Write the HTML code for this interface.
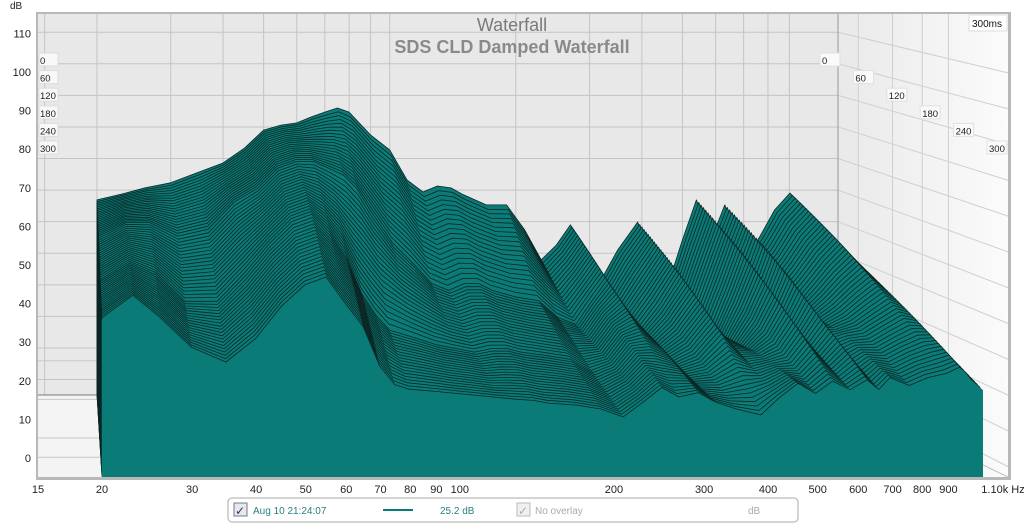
<!DOCTYPE html>
<html><head><meta charset="utf-8">
<style>
html,body{margin:0;padding:0;background:#fff;}
svg{display:block;font-family:"Liberation Sans",sans-serif;}
</style></head>
<body>
<svg id="chart" width="1024" height="523" viewBox="0 0 1024 523">
<defs>
<linearGradient id="sideg" x1="0" x2="1" y1="0" y2="0"><stop offset="0" stop-color="#e9e9e9"/><stop offset="1" stop-color="#fbfbfb"/></linearGradient>
<clipPath id="plotclip"><rect x="38" y="14" width="970" height="463"/></clipPath>
</defs>
<rect x="36" y="12" width="975" height="468" fill="#b8b8b8"/>
<rect x="38" y="14" width="970" height="463" fill="#f4f4f4"/>
<rect x="838" y="14" width="170" height="463" fill="url(#sideg)"/>
<rect x="38" y="14" width="800" height="381" fill="#e8e8e8"/>
<g id="grid" clip-path="url(#plotclip)"></g>
<g id="slices" clip-path="url(#plotclip)"></g>
<g id="axes"></g>
<text x="512" y="31" text-anchor="middle" font-size="18" fill="#7a7a7a">Waterfall</text>
<text x="512" y="53" text-anchor="middle" font-size="18" font-weight="bold" fill="#8a8a8a">SDS CLD Damped Waterfall</text>
<g>
<rect x="969" y="15" width="38" height="16" fill="#fff" stroke="#ddd"/>
<text x="972" y="27" font-size="10" fill="#111">300ms</text></g>
<g>
<rect x="228" y="498" width="570" height="24" rx="4" fill="#fff" stroke="#aaa"/>
<rect x="234" y="503" width="13" height="13" fill="#e6e8f0" stroke="#778"/>
<text x="235" y="515" font-size="12" fill="#334">✓</text>
<text x="253" y="514" font-size="10" fill="#2a8080">Aug 10 21:24:07</text>
<line x1="383" y1="510" x2="413" y2="510" stroke="#0b7b77" stroke-width="2"/>
<text x="440" y="514" font-size="10" fill="#2a8080">25.2 dB</text>
<rect x="517" y="503" width="13" height="13" fill="#f0f0f0" stroke="#bbb"/>
<text x="518" y="515" font-size="12" fill="#aaa">✓</text>
<text x="535" y="514" font-size="10" fill="#aaa">No overlay</text>
<text x="748" y="514" font-size="10" fill="#aaa">dB</text>
</g>
</svg>
<script>
const freqs=[20,23,26,30,35,40,45,50,55,60,65,70,75,80,90,100,110,120,130,140,150,170,190,210,230,250,270,295,318,350,391,425,462,500,540,585,631,665,700,763,830,903,960,1000,1050];
const sliceTimes=[0,100,200,300];
const db0ms=[56.9,58.8,60.7,62.3,65.7,68.6,73.3,79,80.6,81.3,83.2,84.7,86,84.7,77.5,72.7,63.2,59.4,61.3,60.7,58.5,55.3,55.3,47.4,37.9,42.6,49,41,31,41,49.9,36,30,44.2,56.9,44.2,55.3,47.4,38,45,53.7,59.1,55.3,52.1,48.6];
const db100ms=[50,54,54,50,52,60,64,70,72,72,70,68,64,58,48,42,36,34,36,36,34,32,31,26,24,31,37,28,22,29,39,27,22,33,45,32,44,35,30,36,42,47,43,40,37];
const db200ms=[42,47,44,36,36,44,52,58,60,55,48,38,32,28,26,24,23,22,23,23,22,21,20,17,19,25,26,23,18,20,27,22,22,25,32,25,31,26,27,28,31,34,33,30,27];
const db300ms=[35.8,41.7,35.8,28,24,30,38.5,44,46,39,33,22.8,18,17,16.5,16,15.5,15,14.5,14.2,13.5,13,12,10,14,17.6,15,16.3,14,12,10,15,18.9,16,19,17,19.4,17,20.2,18,20,21,22.8,20,17.6];
const yTicks=[0,10,20,30,40,50,60,70,80,90,100,110];
const xTicks=[15,20,30,40,50,60,70,80,90,100,200,300,400,500,600,700,800,900];
const xTickLabels=["15","20","30","40","50","60","70","80","90","100","200","300","400","500","600","700","800","900"];
const timeTicks=[0,60,120,180,240,300];

const NS="http://www.w3.org/2000/svg";
function xFront(f){return 38+512*Math.log10(f/15);}
function yFront(db){return 458-3.86*db;}
function scaleAt(t){return 0.818+0.182*t;}
function proj(f,db,t){const s=scaleAt(t);return [74.5+(xFront(f)-74.5)*s,27+(yFront(db)-27)*s];}
function mk(tag,attrs,parent){const e=document.createElementNS(NS,tag);for(const k in attrs)e.setAttribute(k,attrs[k]);parent.appendChild(e);return e;}

const grid=document.getElementById('grid');
const axes=document.getElementById('axes');
yTicks.forEach(v=>{
  const p=proj(15,v,0);
  const l=mk('line',{x1:38,x2:838,y1:p[1],y2:p[1],stroke:'#c4c4c4','stroke-width':1},grid);
  
  
  const q=proj(15,v,1);
  const s=mk('line',{x1:838,y1:p[1],x2:1008,y2:p[1]+(q[1]-p[1])*0.6+40,stroke:'#cfcfcf','stroke-width':1},grid);
  
  
});
[-5,0,10,20].forEach(v=>{
  const q=proj(15,v,1);
  const l=mk('line',{x1:38,x2:100,y1:q[1]-20,y2:q[1]-20,stroke:'#c8c8c8','stroke-width':1},grid);
  
  
});
xTicks.forEach(f=>{
  const p=proj(f,0,0);
  if(p[0]>38&&p[0]<838){
    const l=mk('line',{x1:p[0],x2:p[0],y1:14,y2:395,stroke:'#c4c4c4','stroke-width':1},grid);
    
    
  }
  const xf=xFront(f);
  if(xf>838){
    const l=mk('line',{x1:xf,x2:xf,y1:14,y2:477,stroke:'#cfcfcf','stroke-width':1},grid);
    
    
  }
});
mk('line',{x1:838,y1:14,x2:838,y2:395,stroke:'#999','stroke-width':1},grid);
mk('line',{x1:38,y1:395,x2:97,y2:395,stroke:'#777','stroke-width':1},grid);
mk('line',{x1:838,y1:395,x2:1008,y2:477,stroke:'#bbb','stroke-width':1},grid);

const series=[db0ms,db100ms,db200ms,db300ms];
function valueAt(j,time){
  for(let k=0;k<sliceTimes.length-1;k++){
    if(time<=sliceTimes[k+1]){const a=(time-sliceTimes[k])/(sliceTimes[k+1]-sliceTimes[k]);return series[k][j]*(1-a)+series[k+1][j]*a;}
  }
  return series[series.length-1][j];
}
const sg=document.getElementById('slices');
// left black edge face
{
  const a=proj(freqs[0],db0ms[0],0),b=proj(freqs[0],db300ms[0],1),c=proj(freqs[0],-5,1),d=proj(freqs[0],-5,0);
  const face=mk('polygon',{points:[a,b,c,d].map(p=>p[0].toFixed(1)+','+p[1].toFixed(1)).join(' '),fill:'#050505'},sg);
  
  
}
const N=61;
for(let i=0;i<N;i++){
  const t=i/(N-1);const time=300*t;
  const pts=[];
  for(let j=0;j<freqs.length;j++){const p=proj(freqs[j],valueAt(j,time),t);pts.push(p[0].toFixed(1)+','+p[1].toFixed(1));}
  const bR=proj(freqs[freqs.length-1],-5,t),bL=proj(freqs[0],-5,t);
  pts.push(bR[0].toFixed(1)+','+bR[1].toFixed(1));
  pts.push(bL[0].toFixed(1)+','+bL[1].toFixed(1));
  const last=i===N-1;
  const pg=mk('polygon',{points:pts.join(' '),fill:'#0a7b77',stroke:last?'#0a7b77':'#0b2624','stroke-width':last?0.5:0.8,'stroke-linejoin':'round'},sg);
  
  
}

yTicks.forEach(v=>{
  const tx=mk('text',{x:31,y:yFront(v)+4,'text-anchor':'end','font-size':11,fill:'#222'},axes);
  tx.textContent=String(v);
  
  
});
const dbl=mk('text',{x:10,y:9,'font-size':10,fill:'#222'},axes);dbl.textContent='dB';


xTicks.forEach((f,k)=>{
  const tx=mk('text',{x:xFront(f),y:493,'text-anchor':'middle','font-size':11,fill:'#222'},axes);
  tx.textContent=xTickLabels[k];
  
  
});
const xl=mk('text',{x:1003,y:493,'text-anchor':'middle','font-size':11,fill:'#222'},axes);xl.textContent='1.10k Hz';


timeTicks.forEach((ms,k)=>{
  const y=60+k*17.6;
  const g1=mk('g',{},axes);
  
  
  mk('rect',{x:39,y:y-7,width:19,height:13,fill:'#f8f8f8',stroke:'#ddd'},g1);
  const a=mk('text',{x:40,y:y+4,'font-size':9.5,fill:'#222'},g1);a.textContent=String(ms);
  const rx=820+k*33.4;
  const g2=mk('g',{},axes);
  
  
  mk('rect',{x:rx,y:y-7,width:20,height:13,fill:'#fafafa',stroke:'#e0e0e0'},g2);
  const b=mk('text',{x:rx+2,y:y+4,'font-size':9.5,fill:'#222'},g2);b.textContent=String(ms);
});
</script>
</body></html>
